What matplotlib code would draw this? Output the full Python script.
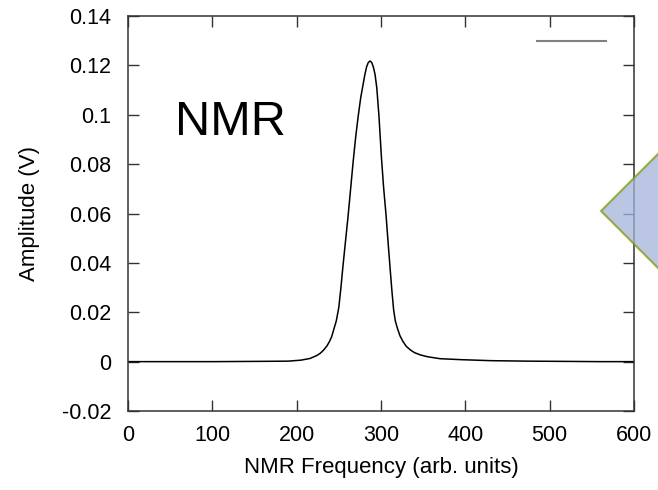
import matplotlib
matplotlib.use('Agg')
import matplotlib.pyplot as plt
from matplotlib.lines import Line2D
from matplotlib.patches import Polygon

plt.rcParams['font.family'] = ['Liberation Sans', 'DejaVu Sans']

# NMR resonance curve
freq = [0, 50, 100, 150, 190, 205, 216, 224, 228, 232, 236, 239, 241.5, 244,
        247, 250, 252.5, 255, 258, 261, 264, 267, 270, 273, 276, 279, 281, 283,
        285, 287, 289, 291, 293, 295, 297.5, 300.5, 303, 306, 308.5, 311, 313,
        315, 317, 319.5, 322.5, 326, 330, 335, 340, 347, 355, 370, 395, 430,
        474, 520, 560, 600]
amp = [0.0, 0.0, 0.0, 0.0001, 0.0002, 0.0006, 0.0013, 0.0025, 0.0034, 0.0047,
       0.0064, 0.0082, 0.0101, 0.013, 0.0165, 0.022, 0.030, 0.039, 0.049,
       0.059, 0.070, 0.081, 0.091, 0.0995, 0.107, 0.1127, 0.1165, 0.1195,
       0.1212, 0.1218, 0.1212, 0.1193, 0.1163, 0.111, 0.100, 0.083, 0.071,
       0.0594, 0.048, 0.037, 0.0285, 0.021, 0.0165, 0.0135, 0.0105, 0.0082,
       0.0062, 0.0047, 0.0036, 0.0027, 0.002, 0.0012, 0.0008, 0.0004, 0.0002,
       0.0001, 0.0, 0.0]

xticks = [0, 100, 200, 300, 400, 500, 600]
yticks = [-0.02, 0, 0.02, 0.04, 0.06, 0.08, 0.1, 0.12, 0.14]
ytick_labels = ['-0.02', '0', '0.02', '0.04', '0.06', '0.08', '0.1', '0.12', '0.14']

fig = plt.figure(figsize=(6.58, 4.9), dpi=100)
ax = fig.add_axes([0.1945, 0.1612, 0.769, 0.806])

ax.plot(freq, amp, color='black', linewidth=1.1)

ax.set_xlim(0, 600)
ax.set_ylim(-0.02, 0.14)
ax.set_xticks(xticks)
ax.set_yticks(yticks)
ax.set_yticklabels(ytick_labels)
ax.tick_params(direction='in', length=8, width=1, top=True, right=True,
               labelsize=15.5, color='#333333')
ax.tick_params(axis='x', pad=10)
ax.tick_params(axis='y', pad=12)
for s in ax.spines.values():
    s.set_linewidth(1.1)
    s.set_color('#333333')

ax.set_xlabel('NMR Frequency (arb. units)', fontsize=16, labelpad=8)
ax.set_ylabel('Amplitude (V)', fontsize=16, labelpad=16)

# empty key entry (grey line top right)
ax.legend(handles=[Line2D([], [], color='#808080', linewidth=1.5)], labels=[''],
          loc='center right', bbox_to_anchor=(0.945, 0.934), frameon=False,
          fontsize=10, handlelength=5.0, handletextpad=0, borderpad=0,
          borderaxespad=0)

ax.text(122, 0.097, 'NMR', fontsize=35, ha='center', va='center')

# blue arrow shape at right edge
diamond = Polygon([(601 / 658, 1 - 211 / 490), (720 / 658, 1 - 92 / 490),
                   (720 / 658, 1 - 330 / 490)], closed=True,
                  transform=fig.transFigure, facecolor='#a3b3dc', alpha=0.75,
                  edgecolor='#7a9a05', linewidth=1.5, zorder=10)
fig.patches.append(diamond)

plt.savefig('out.png', dpi=100)
